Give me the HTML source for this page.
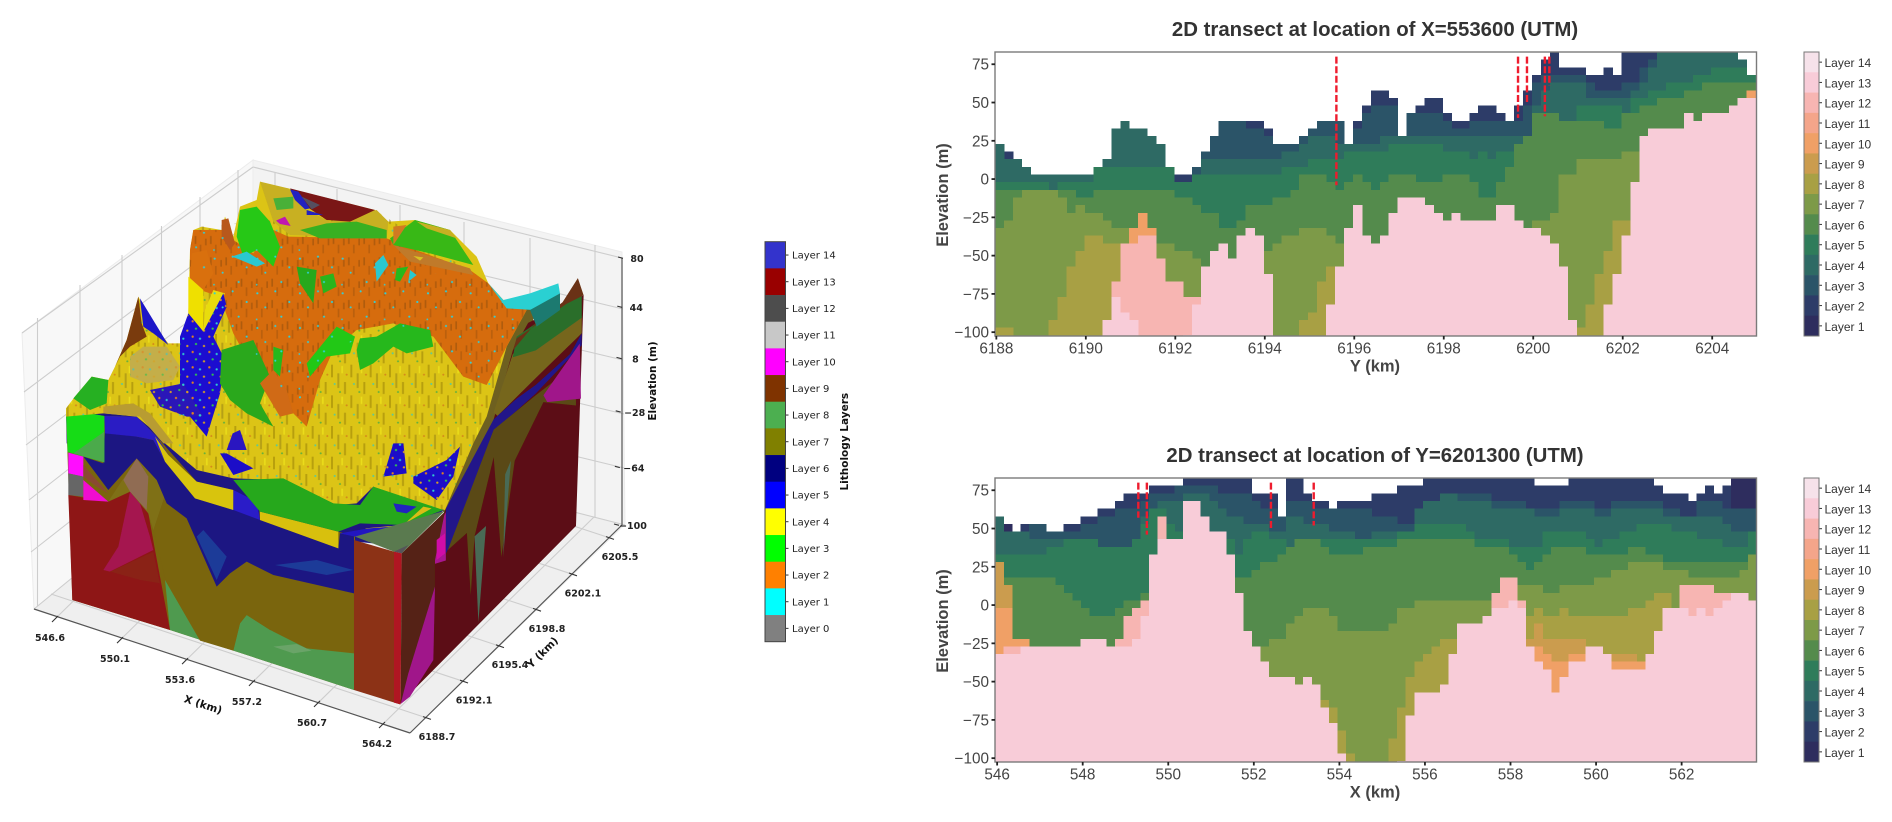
<!DOCTYPE html>
<html lang="en">
<head>
<meta charset="utf-8">
<title>Lithology layers 3D model and 2D transects</title>
<style>
html,body{margin:0;padding:0;background:#fff;width:1892px;height:822px;overflow:hidden}
svg{display:block}
text{font-family:"Liberation Sans",sans-serif}
.dj{font-family:"DejaVu Sans",sans-serif}
</style>
</head>
<body>
<svg id="figure" width="1892" height="822" viewBox="0 0 1892 822">
<defs>
  <filter id="soft" x="-5%" y="-5%" width="110%" height="110%"><feGaussianBlur stdDeviation="0.7"/></filter>
  <pattern id="ridgeY" width="58" height="92" patternUnits="userSpaceOnUse">
    <rect x="3" y="0" width="6" height="38" fill="#7c6410" opacity=".38"/>
    <rect x="22" y="26" width="6" height="44" fill="#6e5a12" opacity=".34"/>
    <rect x="42" y="52" width="6" height="36" fill="#7c6410" opacity=".38"/>
    <rect x="34" y="4" width="5" height="22" fill="#f4ec20" opacity=".6"/>
    <circle cx="14" cy="58" r="3.2" fill="#30c8c8" opacity=".75"/>
    <circle cx="50" cy="30" r="3" fill="#d07020" opacity=".7"/>
    <circle cx="30" cy="82" r="3" fill="#30a850" opacity=".7"/>
  </pattern>
  <pattern id="ridgeO" width="46" height="64" patternUnits="userSpaceOnUse">
    <rect x="4" y="2" width="5" height="24" fill="#7a4210" opacity=".42"/>
    <rect x="19" y="28" width="5" height="26" fill="#8a4a10" opacity=".38"/>
    <rect x="35" y="10" width="5" height="20" fill="#6e3c10" opacity=".36"/>
  </pattern>
  <pattern id="speckC" width="128" height="104" patternUnits="userSpaceOnUse">
    <circle cx="12" cy="14" r="3.2" fill="#2fd0d8"/><circle cx="66" cy="8" r="3" fill="#2fd0d8"/>
    <circle cx="108" cy="40" r="3.2" fill="#2fd0d8"/><circle cx="36" cy="56" r="3" fill="#2fd0d8"/>
    <circle cx="84" cy="84" r="3.2" fill="#2fd0d8"/><circle cx="10" cy="92" r="2.6" fill="#2fd0d8"/>
  </pattern>
  <pattern id="speckB" width="50" height="46" patternUnits="userSpaceOnUse">
    <circle cx="8" cy="8" r="3.4" fill="#e08020"/><circle cx="30" cy="14" r="3.4" fill="#30c8d0"/>
    <circle cx="18" cy="30" r="3.4" fill="#30c050"/><circle cx="42" cy="36" r="3.4" fill="#d8a020"/>
  </pattern>
</defs>

<g>
  <g>
    <polygon points="22,333 253,160 253,430 34,609" fill="#f8f8f8" stroke="#ececec"/>
    <polygon points="253,160 622,252 625,525 253,430" fill="#f3f3f3" stroke="#ececec"/>
    <polygon points="34,609 253,430 625,525 410,733" fill="#efefef"/>
  </g>
  <g stroke="#cdcdcd" stroke-width="1.1" fill="none">
    <path d="M37.5,318V606M80,285V570M122,255V535M161.5,226V505M200,197V472M238,170V442"/>
    <path d="M22,333L253,167M24,392L253,220M26,445L253,272M29,500L253,325M31,552L253,378M34,609L253,430"/>
    <path d="M275,173V436M337,189V452M400,205V468M464,222V484M530,238V501M595,245V518"/>
    <path d="M253,167L622,258M253,220L623,309M253,272L623,360M253,325L624,414M253,378L624,468M253,430L625,525"/>
  </g>
  <g id="floor-grid"></g>

  <!-- underlay closing seams between faces and terrain -->
  <g transform="translate(40,150) scale(.33333)">
    <polygon points="1380,470 1490,470 1450,620 1390,800 1310,970 1215,1090 1170,1040 1280,860 1330,700 1370,560" fill="#6e6020"/>
    <polygon points="78,775 190,785 290,795 350,845 470,955 580,980 730,985 890,1060 950,1055 1000,1005 1215,1075 1100,1190 900,1170 500,1050 190,905 80,880" fill="#1f1682"/>
  </g>

  <!-- right face of block -->
  <g transform="translate(0,130) scale(.3827,.3444)" filter="url(#soft)">
    <polygon points="1045,1666 1505,1150 1525,480 1380,560 1340,640 1280,880 1165,1100 1130,1180" fill="#5b1012"/>
    <polygon points="1290,820 1340,650 1520,540 1520,590 1400,720 1300,830" fill="#76661e"/>
    <polygon points="1350,600 1480,500 1520,480 1520,545 1400,640 1340,660" fill="#2a6e2c"/>
    <polygon points="1340,640 1400,560 1470,500 1510,430 1525,480 1480,505 1350,605" fill="#6a3012"/>
    <polygon points="1165,1100 1290,840 1350,780 1400,740 1490,650 1520,590 1520,625 1400,765 1300,865 1280,960 1215,1120 1165,1230" fill="#20148a"/>
    <polygon points="1290,870 1400,770 1505,680 1505,800 1420,790 1345,960 1310,1240 1290,950 1240,1180 1230,1350 1220,1170 1170,1220" fill="#5a4a12"/>
    <polygon points="1420,770 1515,620 1518,780 1430,790" fill="#a0148a"/>
    <polygon points="1240,1180 1250,1430 1270,1150" fill="#4a6a55"/>
    <polygon points="1320,1000 1335,960 1315,1240" fill="#4a6a55"/>
    <polygon points="1135,1170 1165,1110 1165,1250 1135,1260" fill="#a81490"/>
  </g>

  <!-- left / front face of block -->
  <g transform="translate(40,440) scale(.33333)" filter="url(#soft)">
    <polygon points="78,-93 193,-72 290,-70 350,-10 470,125 580,150 660,215 895,275 945,290 942,750 390,570 97,480" fill="#7a6510"/>
    <polygon points="85,165 205,185 270,155 325,220 345,330 390,570 97,480" fill="#8e1414"/>
    <polygon points="270,155 300,190 330,290 340,330 210,395 190,390 235,320" fill="#a5124f"/>
    <polygon points="210,395 340,335 360,430 300,420" fill="#8a2018"/>
    <polygon points="375,420 390,570 942,750 942,635 800,610 690,570 620,525 600,550 580,632 480,600" fill="#4f9a50"/>
    <polygon points="700,620 770,612 815,632 760,640" fill="#6aa468"/>
    <polygon points="340,270 375,160 440,235 470,320 530,440 570,400 620,365 700,405 942,460 942,640 800,625 700,575 620,525 600,550 580,632 480,602 378,425" fill="#7a6510"/>
    <polygon points="205,185 290,55 350,120 375,165 340,270 325,220 270,155" fill="#7f7018"/>
    <polygon points="290,55 325,110 320,210 270,155 250,120" fill="#906c52"/>
    <polygon points="130,50 205,150 290,55 350,120 380,190 440,235 530,440 570,400 620,365 700,405 942,460 942,285 900,280 895,325 660,240 655,190 580,150 580,210 465,175 375,65 340,0 195,-30 190,70" fill="#1f1682"/>
    <polygon points="470,290 530,420 560,350 490,270" fill="#1f3a98"/>
    <polygon points="705,375 830,360 940,390 860,405" fill="#1f3a98"/>
    <polygon points="193,-72 290,-70 350,-10 385,45 375,65 340,0 290,-10 195,-20" fill="#2a1ac4"/>
    <polygon points="78,-93 193,-72 193,67 83,36" fill="#14dc14"/>
    <polygon points="100,40 193,-25 193,67" fill="#4caa4c"/>
    <polygon points="85,38 130,50 130,110 85,100" fill="#ff10ff"/>
    <polygon points="85,100 130,110 130,170 85,165" fill="#666666"/>
    <polygon points="130,120 205,185 130,180" fill="#f010d0"/>
    <polygon points="130,75 205,160 170,140 130,110" fill="#8a4a30"/>
  </g>

  <!-- terrain -->
  <g transform="translate(40,150) scale(.33333)" filter="url(#soft)">
    <polygon points="78,775 105,740 155,680 205,690 225,650 260,570 295,440 330,510 385,580 430,580 445,490 450,300 460,240 485,230 545,240 555,200 580,260 600,170 650,150 660,95 700,115 745,115 1005,180 1045,215 1125,210 1230,240 1260,270 1310,320 1345,400 1390,450 1460,480 1400,590 1340,800 1300,880 1215,1080 1100,1060 1000,1010 950,1060 890,1065 730,990 580,985 470,960 375,880 350,850 290,800 190,790 78,800" fill="#dcc412"/>
    <polygon points="78,775 105,740 155,680 205,690 225,650 260,570 295,440 330,510 385,580 430,580 445,490 450,300 460,240 485,230 1005,180 1345,400 1390,450 1460,480 1400,590 1340,800 1300,880 1215,1080 1100,1060 1000,1010 950,1060 890,1065 730,990 580,985 470,960 375,880 350,850 290,800 190,790 78,800" fill="url(#ridgeY)"/>
    <polygon points="460,240 545,240 580,270 640,310 700,240 745,260 1040,265 1100,290 1290,360 1345,400 1390,450 1460,480 1400,590 1340,705 1270,680 1180,560 1060,520 950,540 880,600 840,690 800,830 760,790 700,680 650,680 580,550 540,440 480,420 450,400 450,300" fill="#d66c10"/>
    <polygon points="460,240 545,240 580,270 640,310 700,240 745,260 1040,265 1100,290 1290,360 1345,400 1390,450 1460,480 1400,590 1340,705 1270,680 1180,560 1060,520 950,540 880,600 840,690 800,830 760,790 700,680 650,680 580,550 540,440 480,420 450,400 450,300" fill="url(#ridgeO)"/>
    <polygon points="1060,285 1290,355 1300,375 1110,335" fill="#c07a2a"/>
    <polygon points="660,95 745,115 800,180 870,215 1010,180 1045,215 1040,265 750,255 700,215" fill="#c8b020"/>
    <polygon points="700,145 760,140 760,175 710,180" fill="#48b038"/>
    <polygon points="750,115 1005,180 930,215 860,210 800,170" fill="#7a1414"/>
    <polygon points="750,118 775,125 810,175 795,178 765,150" fill="#2020c0"/>
    <polygon points="785,140 840,165 815,178" fill="#555060"/>
    <polygon points="800,180 850,195 800,195" fill="#2020c0"/>
    <polygon points="708,212 735,200 752,228 720,222" fill="#c018b0"/>
    <polygon points="780,240 860,220 950,215 1040,240 1040,265 840,265" fill="#38b020"/>
    <polygon points="1050,265 1125,210 1230,240 1300,345 1170,310 1060,285" fill="#38b818"/>
    <polygon points="1130,215 1230,240 1250,265 1160,235" fill="#c8b020"/>
    <polygon points="1120,318 1150,322 1140,332" fill="#d8c020"/>
    <polygon points="1060,285 1100,225 1060,230" fill="#d07a20"/>
    <polygon points="600,180 650,170 690,215 720,290 700,350 650,300 610,320 590,260" fill="#28c816"/>
    <polygon points="455,310 500,300 520,370 490,420 450,400" fill="#d97010"/>
    <polygon points="545,210 565,205 585,280 570,300 545,260" fill="#b8581a"/>
    <polygon points="445,380 490,420 490,545 445,490" fill="#efe006"/>
    <polygon points="520,420 555,430 505,520 490,545 495,480" fill="#e8dc10"/>
    <polygon points="420,560 445,490 490,545 550,430 560,470 520,560 555,630 540,730 500,860 450,800 420,700" fill="#1a10d0"/>
    <polygon points="330,720 430,700 490,800 440,800 360,770" fill="#2a12b8"/>
    <polygon points="420,560 445,490 490,545 550,430 560,470 520,560 555,630 540,730 500,860 450,800 420,700" fill="url(#speckB)"/>
    <polygon points="330,720 430,700 490,800 440,800 360,770" fill="url(#speckB)"/>
    <polygon points="300,445 385,585 340,550 310,530" fill="#1c14c8"/>
    <polygon points="295,440 305,520 320,560 270,590 240,620 225,650 260,570" fill="#7a3a10"/>
    <polygon points="270,620 310,590 380,590 420,650 400,690 320,700 270,680" fill="#c4ae48"/>
    <polygon points="270,620 310,590 380,590 420,650 400,690 320,700 270,680" fill="url(#speckB)" opacity=".6"/>
    <polygon points="100,745 155,680 205,690 200,760 150,780" fill="#28b020"/>
    <polygon points="190,770 280,760 330,790 400,880 370,880 300,800 190,790" fill="#b89c30"/>
    <polygon points="545,600 640,570 690,680 660,760 700,830 620,790 570,750 540,700" fill="#2aa81a"/>
    <polygon points="700,590 730,600 720,680 700,660" fill="#28b81a"/>
    <polygon points="800,640 890,530 945,560 930,610 860,620 810,680" fill="#20c818"/>
    <polygon points="1010,560 1080,520 1170,540 1180,590 1100,610 1060,590 1000,640 960,660 950,600 960,565" fill="#28b81a"/>
    <polygon points="770,350 830,360 820,460 780,400" fill="#28a81a"/>
    <polygon points="840,380 880,370 890,410 850,430" fill="#2cb41a"/>
    <polygon points="660,700 700,660 740,720 760,790 720,800" fill="#d06a12"/>
    <polygon points="460,240 1345,400 1460,480 1340,705 1180,560 1060,520 880,600 800,830 700,680 580,550 480,420" fill="url(#speckC)"/>
    <polygon points="575,320 620,305 675,340 650,350 590,325" fill="#2cc8d0"/>
    <polygon points="1005,340 1030,315 1045,345 1010,395" fill="#2cc8d0"/>
    <polygon points="1110,360 1130,375 1105,395" fill="#2cc8d0"/>
    <polygon points="1070,355 1105,350 1080,395 1065,390" fill="#28b81a"/>
    <polygon points="1345,400 1390,450 1470,430 1555,400 1560,430 1480,480 1400,475" fill="#2cd0d2"/>
    <polygon points="1470,480 1560,430 1560,480 1490,530" fill="#1f7a70"/>
    <polygon points="578,850 600,840 620,900 560,900" fill="#2a12c0"/>
  </g>

  <!-- front apron and near corner panel -->
  <g transform="translate(40,440) scale(.33333)" filter="url(#soft)">
    <polygon points="345,-10 385,45 470,125 580,150 580,210 465,175 375,65" fill="#d8c40e"/>
    <polygon points="580,150 650,185 660,240 580,210" fill="#2a1ac8"/>
    <polygon points="660,215 895,275 895,325 660,240" fill="#d8c010"/>
    <polygon points="580,120 730,115 880,190 960,195 1000,140 1210,210 1090,255 960,250 895,275 660,215" fill="#27a81b"/>
    <polygon points="1060,190 1130,200 1100,220 1070,215" fill="#2020c0"/>
    <polygon points="975,265 1090,255 1150,200 1175,205 1095,250 1000,272" fill="#d8bc18"/>
    <polygon points="900,280 985,265 1090,258 1095,280 1000,295 945,290" fill="#2418c0"/>
    <polygon points="1060,10 1090,10 1100,100 1030,110" fill="#1c10c8"/>
    <polygon points="1120,110 1220,60 1260,20 1240,110 1190,180 1120,130" fill="#1c10c8"/>
    <polygon points="540,40 560,40 640,85 580,105" fill="#1c10c8"/>
    <polygon points="1060,10 1090,10 1100,100 1030,110" fill="url(#speckB)"/>
    <polygon points="1120,110 1220,60 1260,20 1240,110 1190,180 1120,130" fill="url(#speckB)"/>
    <polygon points="945,290 1215,212 1085,340 1062,335" fill="#5a7a50"/>
    <polygon points="1062,335 1105,315 1085,340" fill="#55555a"/>
    <polygon points="942,300 1062,335 1080,793 942,750" fill="#8c3018"/>
    <polygon points="1062,335 1085,340 1082,793 1062,788" fill="#b01420"/>
    <polygon points="1085,340 1215,215 1185,360 1185,450 1110,700 1082,790" fill="#552412"/>
    <polygon points="1105,700 1185,440 1180,660 1110,770 1082,792" fill="#a0148a"/>
    <polygon points="1190,300 1215,280 1215,340 1190,360" fill="#d010a8"/>
  </g>

  <g id="axes-3d"></g>
</g>

<g id="legend-3d"></g>
<g id="transect-x"></g>
<g id="transect-y"></g>
</svg>

<script>
const N = -110;
const U = 99;

/* Layer names and colours */
const layerColorsTransect = {1:'#2e2d5e',2:'#2d3c68',3:'#2b5468',4:'#2e6a64',5:'#2f7c5a',6:'#548b4c',7:'#7d9a48',8:'#a8a044',9:'#cb9c4e',10:'#f0a066',11:'#f4a58a',12:'#f7b5b2',13:'#f8ccd8',14:'#f6e2ea'};
const transectLegendLayers = [14,13,12,11,10,9,8,7,6,5,4,3,2,1];
const litho3dLayers = [14,13,12,11,10,9,8,7,6,5,4,3,2,1,0];
const litho3dColors = ['#3333cc','#990000','#4d4d4d','#c8c8c8','#ff00ff','#7f3300','#4caf50','#808000','#000080','#0000ff','#ffff00','#00ff00','#ff8000','#00ffff','#808080'];

/* Shared tick labels */
const elevationTicks = [75,50,25,0,-25,-50,-75,-100];
const yKmTicks = [6188,6190,6192,6194,6196,6198,6200,6202,6204];
const xKmTicks = [546,548,550,552,554,556,558,560,562];

/* 3D axis tick labels */
const xTicks3d = [546.6,550.1,553.6,557.2,560.7,564.2];
const yTicks3d = [6188.7,6192.1,6195.4,6198.8,6202.1,6205.5];
const zTicks3d = [80,44,8,-28,-64,-100];

/* Transect X=553600: top elevation (m) of each layer per 0.2 km column */
const t1Surface = [
23,18,13,8,3,3,3,3,3,3,
3,8,13,33,38,33,33,28,23,8,
3,3,8,18,28,38,38,38,38,38,
33,23,23,23,28,33,38,38,38,23,
38,48,58,58,53,28,43,48,53,53,
43,38,38,43,48,48,43,38,48,58,
68,78,83,73,73,73,68,68,73,68,
83,83,83,83,83,83,83,83,83,83,
83,83,83,78,68];
const t1L3 = [
23,13,13,8,3,3,3,3,3,3,
3,8,13,33,38,33,33,28,23,8,
-2,-2,8,18,28,38,38,38,33,33,
28,23,23,23,28,33,38,38,38,23,
33,43,48,48,48,28,43,43,43,43,
38,33,33,38,38,38,38,38,38,48,
63,68,68,68,68,68,63,58,58,58,
63,63,73,78,83,83,83,83,83,83,
83,83,83,83,83];
const t1L4 = [
23,13,13,8,3,3,3,3,3,3,
3,8,13,33,38,33,33,28,23,8,
-2,-2,3,13,13,13,13,13,13,13,
13,13,18,18,23,28,28,28,23,23,
23,23,23,28,28,28,28,28,28,28,
28,28,28,28,28,28,28,28,28,28,
48,58,63,63,63,63,53,53,53,53,
53,58,63,73,83,83,83,83,83,83,
83,83,83,83,83];
const t1L5 = [
-2,-2,-2,-2,-2,-2,-7,-2,-2,-2,
-2,8,8,8,8,8,8,8,8,8,
-2,-2,3,3,3,3,3,3,3,3,
3,3,8,8,8,13,13,13,13,18,
18,18,18,18,23,23,23,23,23,23,
18,18,18,13,18,13,18,18,23,28,
33,43,43,38,33,48,48,48,48,48,
43,53,53,58,58,63,63,63,68,68,
73,73,73,73,68];
const t1L6 = [
-7,-7,-7,-7,-7,-7,-7,-7,-7,-12,
-12,-7,-7,-7,-7,-7,-7,-7,-7,-7,
-12,-12,-17,-22,-22,-32,-32,-27,-17,-17,
-17,-12,-12,-7,3,3,3,-2,-7,-2,
3,-2,-7,-2,3,3,3,-2,-2,-2,
3,3,3,-2,-12,-12,-2,8,23,28,
43,43,43,38,38,38,38,38,33,33,
43,43,48,48,53,53,53,58,58,63,
63,63,63,63,63];
const t1L7 = [
-32,-27,-12,-7,-7,-7,-7,-12,-22,-17,
-22,-22,-27,-32,-32,-32,-32,-32,-42,-42,
-47,-47,-52,-60,-60,-60,-60,-60,-60,-60,
-47,-42,-37,-37,-32,-32,-32,-37,-42,-60,
-60,-60,-60,-60,-60,-60,-60,-60,-60,-60,
-60,-60,-60,-60,-60,-60,-60,-60,-60,-60,
-27,-27,-22,3,3,13,13,13,13,13,
18,18,N,N,N,N,N,N,N,N,
N,N,N,N,N];
const t1L8 = [
-97,-97,N,N,N,N,-92,-77,-57,-47,
-37,-37,-42,-42,-47,N,N,N,N,N,
N,N,N,N,N,N,N,N,N,N,
N,N,N,N,-92,-87,-67,-57,N,N,
N,N,N,N,N,N,N,N,N,N,
N,N,N,N,N,N,N,N,N,N,
N,N,N,N,N,-97,-82,-62,-47,-27,
-27,N,N,N,N,N,N,N,N,N,
N,N,N,N,N];
const t1L10 = [
N,N,N,N,N,N,N,N,N,N,
N,N,N,N,N,-32,-22,-32,N,N,
N,N,N,N,N,N,N,N,N,N,
N,N,N,N,N,N,N,N,N,N,
N,N,N,N,N,N,N,N,N,N,
N,N,N,N,N,N,N,N,N,N,
N,N,N,N,N,N,N,N,N,N,
N,N,N,N,N,N,N,N,N,N,
N,N,N,48,58];
const t1L12 = [
N,N,N,N,N,N,N,N,N,N,
N,N,N,-67,-42,-42,-37,-37,-52,-67,
-67,-77,-77,N,N,N,N,N,N,N,
N,N,N,N,N,N,N,N,N,N,
N,N,N,N,N,N,N,N,N,N,
N,N,N,N,N,N,N,N,N,N,
N,N,N,N,N,N,N,N,N,N,
N,N,N,N,N,N,N,N,N,N,
N,N,N,N,53];
const t1L13 = [
N,N,N,N,N,N,N,N,N,N,
N,N,-92,-77,-87,-92,N,N,N,N,
N,-102,-82,-57,-47,-42,-52,-37,-32,-37,
-62,N,N,N,N,N,N,-82,-57,-32,
-17,-37,-42,-37,-22,-12,-12,-12,-17,-22,
-27,-22,-27,-27,-27,-27,-17,-17,-27,-32,
-32,-37,-42,-57,-92,N,N,N,-82,-62,
-37,-2,28,33,33,33,33,43,38,43,
43,43,48,53,53];
const t1FaultKm = [6195.6,6199.66,6199.86,6200.26,6200.36];
const t1FaultBottom = [-4,40,50,41,61];

/* Transect Y=6201300: top elevation (m) of each layer per 0.2 km column */
const t2Surface = [
58,53,48,53,53,53,48,48,53,53,
58,58,63,63,68,73,73,73,78,78,
78,78,83,83,83,83,83,83,83,83,
73,73,73,58,83,83,73,68,68,63,
68,68,68,68,73,73,73,78,78,78,
83,83,83,83,83,83,83,83,83,83,
83,83,83,78,78,78,78,83,83,83,
83,83,83,83,83,83,83,78,73,73,
73,68,73,78,73,78,83,83,83];
const t2L2 = [
U,48,U,U,U,U,U,U,U,U,
U,U,U,U,U,U,U,U,U,U,
U,U,U,U,U,U,U,U,U,U,
U,U,U,U,U,U,U,U,U,U,
U,U,U,U,U,U,U,U,U,U,
U,U,U,U,U,U,U,U,U,U,
U,U,U,U,U,U,U,U,U,U,
U,U,U,U,U,U,U,U,U,U,
U,U,U,U,U,U,63,63,63];
const t2L3 = [
58,48,48,48,53,53,48,48,48,48,
53,53,58,58,63,63,63,68,73,73,
73,78,78,78,78,78,73,73,73,73,
68,63,63,58,68,68,68,63,63,63,
63,63,63,63,58,58,58,53,53,58,
68,68,73,73,73,73,73,73,68,68,
68,68,63,63,63,63,68,68,68,68,
63,63,68,68,68,68,68,68,63,63,
58,58,68,68,68,63,63,63,63];
const t2L4 = [
58,48,48,48,43,43,43,43,43,43,
43,43,38,38,38,38,43,58,63,68,
68,68,73,73,73,68,63,58,58,53,
53,53,48,48,58,58,53,53,53,48,
48,48,43,43,48,48,48,48,48,63,
68,68,73,73,68,68,68,68,63,63,
63,63,63,58,58,58,63,63,63,63,
58,58,63,63,63,63,63,63,58,58,
58,58,58,58,58,53,48,48,48];
const t2L5 = [
33,33,33,33,33,33,38,38,43,43,
43,43,38,38,38,38,43,53,63,63,
53,48,43,43,43,43,43,43,33,43,
48,48,43,43,38,43,43,43,43,43,
43,43,43,43,43,43,43,48,48,53,
53,53,53,53,53,48,43,43,43,43,
38,38,38,38,48,48,48,48,48,43,
38,43,43,48,48,53,53,53,53,48,
48,48,43,43,43,38,38,38,48];
const t2L6 = [
N,18,18,18,18,18,18,13,8,3,
-2,-7,-7,-7,-2,3,3,8,N,N,
N,N,N,N,N,N,N,N,18,18,
23,28,28,33,38,43,43,43,38,33,
33,33,33,38,38,38,38,43,43,43,
43,43,43,43,43,43,38,38,38,38,
33,28,23,28,33,38,38,38,38,33,
33,33,33,33,38,38,33,33,28,28,
28,28,28,28,28,28,28,28,33];
const t2L7 = [
N,N,N,N,N,N,N,N,N,N,
N,N,N,N,N,N,N,N,N,N,
N,N,N,N,N,N,N,N,N,N,
-27,-27,-22,-22,-12,-7,-2,-2,-2,-7,
-17,-17,-17,-17,-17,-17,-12,-2,-2,3,
3,3,3,3,3,3,3,3,3,3,
3,13,13,13,8,8,13,13,13,13,
18,18,23,23,28,28,28,28,23,23,
23,18,18,18,18,18,18,23,33];
const t2L8 = [
N,N,N,N,N,N,N,N,N,N,
N,N,N,N,N,N,N,N,N,N,
N,N,N,N,N,N,N,N,N,N,
N,N,N,N,N,N,N,N,-62,-67,
-82,-97,N,N,N,N,-87,-67,-47,-37,
-32,-27,-22,-22,N,N,N,N,N,N,
N,-12,-7,-2,-7,-7,-2,-7,-7,-7,
-7,-7,-7,-7,-2,-2,3,8,8,N,
N,N,N,N,N,N,N,N,N];
const t2L9 = [
28,13,N,N,N,N,N,N,N,N,
N,N,N,N,N,N,N,N,N,N,
N,N,N,N,N,N,N,N,N,N,
N,N,N,N,N,N,N,N,N,N,
N,N,N,N,N,N,N,N,N,N,
N,N,N,N,N,N,N,N,N,N,
N,N,-22,-12,-22,-22,-22,-22,-22,N,
N,N,-32,-32,-32,N,N,N,N,N,
N,N,N,N,N,N,N,N,N];
const t2L10 = [
-2,-2,-22,-22,N,N,N,N,N,N,
N,N,N,N,N,N,N,N,N,N,
N,N,N,N,N,N,N,N,N,N,
N,N,N,N,N,N,N,N,N,N,
N,N,N,N,N,N,N,N,N,N,
N,N,N,N,N,N,N,N,N,N,
N,N,-27,-27,-32,-37,-37,-32,-32,-27,
N,N,-37,-37,-37,-37,N,N,N,N,
N,N,N,N,N,N,N,N,N];
const t2L12 = [
N,-27,-27,-27,N,N,N,N,N,N,
N,N,N,N,-22,-7,-2,3,N,58,
N,N,N,N,N,N,N,N,N,N,
N,N,N,N,N,N,N,N,N,N,
N,N,N,N,N,N,N,N,N,N,
N,N,N,N,N,N,N,N,8,18,
18,3,N,N,N,N,N,N,N,N,
N,N,N,N,N,N,N,N,N,-2,
13,13,13,13,8,8,3,N,N];
const t2L13 = [
-32,-32,-32,-27,-27,-27,-27,-27,-27,-27,
-22,-22,-22,-27,-27,-27,-22,-7,33,43,
43,43,68,68,58,48,48,33,8,-17,
-27,-37,-47,-47,-47,-52,-47,-52,-67,-77,
-97,N,N,N,N,N,N,-102,-72,-57,
-57,-57,-52,-32,-12,-12,-12,-7,-2,-2,
3,-2,-27,-37,-42,-57,-47,-37,-37,-27,
-27,-32,-42,-42,-42,-42,-32,-17,-2,-2,
-2,-7,-2,-7,-2,3,8,8,3];
const t2FaultKm = [549.3,549.5,552.4,553.4];
const t2FaultBottom = [57,46,49,52];

const SVGNS = 'http://www.w3.org/2000/svg';
function add(parent, tag, attrs, txt) {
  const el = document.createElementNS(SVGNS, tag);
  for (const k in attrs) el.setAttribute(k, attrs[k]);
  if (txt !== undefined) el.textContent = txt;
  parent.appendChild(el);
  return el;
}
function fmt(v) { return String(v).replace('-', '\u2212'); }

function drawTransect(root, cfg) {
  const left = 995, right = 1756.5, top = cfg.top, bottom = cfg.top + 284;
  const sx = km => left + (km - cfg.kmStart) * (right - left) / (cfg.kmEnd - cfg.kmStart);
  const sy = e => bottom - (e + 102.5) * (bottom - top) / 185.5;
  const step = 0.2;

  const heat = add(root, 'g', {'shape-rendering': 'crispEdges'});
  
  
  cfg.layers.forEach(layer => {
    layer.tops.forEach((value, i) => {
      const t = Math.min(value, cfg.surface[i]);
      if (t < -102.5) return;
      const x0 = sx(cfg.kmStart + i * step);
      const x1 = Math.min(sx(cfg.kmStart + (i + 1) * step) + 0.4, right);
      const yTop = Math.max(sy(t), top);
      const cell = add(heat, 'rect', {x: x0, y: yTop, width: x1 - x0, height: bottom - yTop, fill: layerColorsTransect[layer.id]});
      
      
    });
  });

  cfg.faultKm.forEach((km, i) => {
    const f = add(root, 'line', {x1: sx(km), x2: sx(km), y1: sy(80), y2: sy(cfg.faultBottom[i]), stroke: '#ee1c2e', 'stroke-width': 2.4, 'stroke-dasharray': '7 2.6'});
    
    
  });

  const frame = add(root, 'rect', {x: left, y: top, width: right - left, height: bottom - top, fill: 'none', stroke: '#7a7a7a', 'stroke-width': 1.4});
  
  

  elevationTicks.forEach(v => {
    const y = sy(v);
    const tk = add(root, 'line', {x1: left - 3.5, x2: left, y1: y, y2: y, stroke: '#222', 'stroke-width': 1.8});
    
    
    const lb = add(root, 'text', {x: left - 6, y: y + 5.5, 'text-anchor': 'end', 'font-size': 15.3, fill: '#444'}, fmt(v));
    
    
  });
  cfg.xTicks.forEach(v => {
    const x = sx(v);
    const tk = add(root, 'line', {x1: x, x2: x, y1: bottom, y2: bottom + 3.5, stroke: '#222', 'stroke-width': 1.8});
    
    
    const lb = add(root, 'text', {x: x, y: bottom + 17.5, 'text-anchor': 'middle', 'font-size': 15.3, fill: '#444'}, String(v));
    
    
  });

  const title = add(root, 'text', {x: 1375, y: top - 16, 'text-anchor': 'middle', 'font-size': 20.4, 'font-weight': 'bold', fill: '#333'}, cfg.title);
  
  
  const xl = add(root, 'text', {x: 1375, y: bottom + 35.5, 'text-anchor': 'middle', 'font-size': 16.5, 'font-weight': 'bold', fill: '#444'}, cfg.xLabel);
  
  
  const yl = add(root, 'text', {transform: 'translate(948,' + (top + 143) + ') rotate(-90)', 'text-anchor': 'middle', 'font-size': 16.5, 'font-weight': 'bold', fill: '#444'}, 'Elevation (m)');
  
  

  const barX = 1804, barW = 15, segH = 284 / transectLegendLayers.length;
  transectLegendLayers.forEach((id, j) => {
    const y = top + j * segH;
    const seg = add(root, 'rect', {x: barX, y: y, width: barW, height: segH + 0.3, fill: layerColorsTransect[id]});
    
    
    const tk = add(root, 'line', {x1: barX + barW, x2: barX + barW + 3, y1: y + segH / 2, y2: y + segH / 2, stroke: '#333', 'stroke-width': 1});
    
    
    const lb = add(root, 'text', {x: barX + barW + 5.5, y: y + segH / 2 + 5, 'font-size': 12, fill: '#333'}, 'Layer ' + id);
    
    
  });
  const barFrame = add(root, 'rect', {x: barX, y: top, width: barW, height: 284, fill: 'none', stroke: '#777', 'stroke-width': 1});
  
  
}

drawTransect(document.getElementById('transect-x'), {
  top: 52, kmStart: 6187.97, kmEnd: 6204.99,
  title: '2D transect at location of X=553600 (UTM)', xLabel: 'Y (km)',
  xTicks: yKmTicks, surface: t1Surface, faultKm: t1FaultKm, faultBottom: t1FaultBottom,
  layers: [
    {id: 2, tops: t1Surface}, {id: 3, tops: t1L3}, {id: 4, tops: t1L4}, {id: 5, tops: t1L5},
    {id: 6, tops: t1L6}, {id: 7, tops: t1L7}, {id: 8, tops: t1L8}, {id: 10, tops: t1L10},
    {id: 12, tops: t1L12}, {id: 13, tops: t1L13}
  ]
});
drawTransect(document.getElementById('transect-y'), {
  top: 478, kmStart: 545.95, kmEnd: 563.75,
  title: '2D transect at location of Y=6201300 (UTM)', xLabel: 'X (km)',
  xTicks: xKmTicks, surface: t2Surface, faultKm: t2FaultKm, faultBottom: t2FaultBottom,
  layers: [
    {id: 1, tops: t2Surface}, {id: 2, tops: t2L2}, {id: 3, tops: t2L3}, {id: 4, tops: t2L4},
    {id: 5, tops: t2L5}, {id: 6, tops: t2L6}, {id: 7, tops: t2L7}, {id: 8, tops: t2L8},
    {id: 9, tops: t2L9}, {id: 10, tops: t2L10}, {id: 12, tops: t2L12}, {id: 13, tops: t2L13}
  ]
});

/* 3D colorbar */
(function () {
  const root = document.getElementById('legend-3d');
  const x = 765, w = 20.5, top = 241.7, h = 400, seg = h / litho3dLayers.length;
  litho3dLayers.forEach((id, j) => {
    const y = top + j * seg;
    const r = add(root, 'rect', {x: x, y: y, width: w, height: seg + 0.3, fill: litho3dColors[j]});
    
    
    const tk = add(root, 'line', {x1: x + w, x2: x + w + 3, y1: y + seg / 2, y2: y + seg / 2, stroke: '#333', 'stroke-width': 1});
    
    
    const t = add(root, 'text', {x: x + w + 6.5, y: y + seg / 2 + 3.6, 'font-size': 10, fill: '#222', 'class': 'dj'}, 'Layer ' + id);
    
    
  });
  const fr = add(root, 'rect', {x: x, y: top, width: w, height: h, fill: 'none', stroke: '#444', 'stroke-width': 1});
  
  
  const title = add(root, 'text', {transform: 'translate(848,441.7) rotate(-90)', 'text-anchor': 'middle', 'font-size': 10.5, 'font-weight': 'bold', fill: '#111', 'class': 'dj'}, 'Lithology Layers');
  
  
})();

/* 3D axes */
(function () {
  const root = document.getElementById('axes-3d');
  const floor = document.getElementById('floor-grid');
  const lerp = (a, b, t) => [a[0] + (b[0] - a[0]) * t, a[1] + (b[1] - a[1]) * t];
  const xPos = v => lerp([55, 619], [382, 725], (v - xTicks3d[0]) / (xTicks3d[xTicks3d.length - 1] - xTicks3d[0]));
  const yPos = v => lerp([427, 718], [610, 538], (v - yTicks3d[0]) / (yTicks3d[yTicks3d.length - 1] - yTicks3d[0]));
  const zFrac = v => (80 - v) / 180;
  const zPos = v => {
    const t = zFrac(v);
    return lerp([622, 258], [618, 525], 0.9 * t + 0.1 * t * t);
  };

  const axisLines = [[34, 609, 410, 733], [410, 733, 622, 525], [622, 258, 622, 525]];
  axisLines.forEach(a => {
    const l = add(root, 'line', {x1: a[0], y1: a[1], x2: a[2], y2: a[3], stroke: '#555', 'stroke-width': 1.2});
    
    
  });

  xTicks3d.forEach(v => {
    const p = xPos(v);
    const g = add(floor, 'line', {x1: p[0], y1: p[1], x2: p[0] + 212, y2: p[1] - 208, stroke: '#cdcdcd', 'stroke-width': 1.1});
    
    
    const tk = add(root, 'line', {x1: p[0] - 3, y1: p[1] + 3, x2: p[0] + 3, y2: p[1] - 3, stroke: '#333', 'stroke-width': 1.1});
    
    
    const lb = add(root, 'text', {x: p[0] - 5, y: p[1] + 22, 'text-anchor': 'middle', 'font-size': 9.5, 'font-weight': 'bold', fill: '#222', 'class': 'dj'}, v.toFixed(1));
    
    
  });
  yTicks3d.forEach(v => {
    const p = yPos(v);
    const g = add(floor, 'line', {x1: p[0], y1: p[1], x2: p[0] - 376, y2: p[1] - 124, stroke: '#cdcdcd', 'stroke-width': 1.1});
    
    
    const tk = add(root, 'line', {x1: p[0] - 4, y1: p[1] - 1.4, x2: p[0] + 4, y2: p[1] + 1.4, stroke: '#333', 'stroke-width': 1.1});
    
    
    const lb = add(root, 'text', {x: p[0] + 10, y: p[1] + 22, 'text-anchor': 'middle', 'font-size': 9.5, 'font-weight': 'bold', fill: '#222', 'class': 'dj'}, v.toFixed(1));
    
    
  });
  zTicks3d.forEach(v => {
    const p = zPos(v);
    const tk = add(root, 'line', {x1: p[0] - 4, y1: p[1] - 1, x2: p[0] + 1, y2: p[1] + 0.3, stroke: '#333', 'stroke-width': 1.1});
    
    
    const lb = add(root, 'text', {x: p[0] + 15, y: p[1] + 4, 'text-anchor': 'middle', 'font-size': 9.5, 'font-weight': 'bold', fill: '#222', 'class': 'dj'}, fmt(v));
    
    
  });

  const xTitle = add(root, 'text', {transform: 'translate(202,708) rotate(18)', 'text-anchor': 'middle', 'font-size': 10.5, 'font-weight': 'bold', fill: '#111', 'class': 'dj'}, 'X (km)');
  
  
  const yTitle = add(root, 'text', {transform: 'translate(545,655) rotate(-45)', 'text-anchor': 'middle', 'font-size': 10.5, 'font-weight': 'bold', fill: '#111', 'class': 'dj'}, 'Y (km)');
  
  
  const zTitle = add(root, 'text', {transform: 'translate(656,381) rotate(-90)', 'text-anchor': 'middle', 'font-size': 10.5, 'font-weight': 'bold', fill: '#111', 'class': 'dj'}, 'Elevation (m)');
  
  
})();
</script>
</body>
</html>
